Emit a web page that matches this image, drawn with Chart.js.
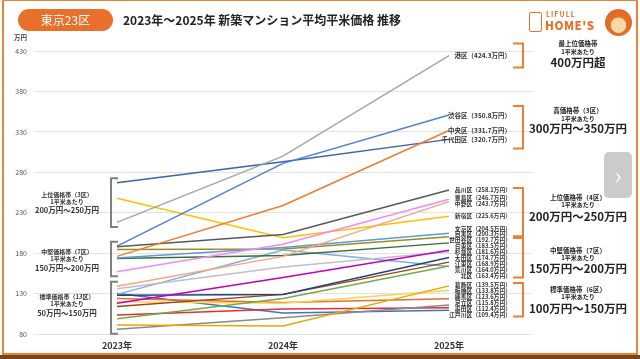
<!DOCTYPE html>
<html><head><meta charset="utf-8">
<script src="https://cdn.jsdelivr.net/npm/chart.js@4/dist/chart.umd.min.js"></script>
<style>
body{margin:0;width:640px;height:359px;overflow:hidden;background:#fff;position:relative;font-family:"Noto Sans CJK JP","Noto Sans",sans-serif;}
.abs{position:absolute;}
</style></head>
<body>
<div class="abs" style="left:2px;top:0;width:632px;height:352px;border:2px solid #E9853A;border-top-width:1px;"></div>
<div class="abs" style="left:0;top:355px;width:640px;height:4px;background:#7a4418"></div>
<canvas id="c" width="640" height="359" class="abs" style="left:0;top:0"></canvas>
<div class="abs" style="left:18px;top:9px;width:95px;height:22px;border-radius:11px;background:#E8702A;color:#fff;font-size:12px;line-height:22px;text-align:center;">東京23区</div>
<div class="abs" style="left:123px;top:10px;font-size:12px;font-weight:700;color:#222;line-height:20px;white-space:nowrap;">2023年～2025年 新築マンション平均平米価格 推移</div>
<div class="abs" style="left:529px;top:12px;width:11px;height:18px;border:1.5px solid #E8702A;border-radius:2px;"></div>
<div class="abs" style="left:546px;top:9px;font-size:7px;font-weight:700;color:#E8702A;letter-spacing:1px;">LIFULL</div>
<div class="abs" style="left:545px;top:17px;font-size:11.5px;font-weight:900;color:#E8702A;letter-spacing:0.5px;">HOME'S</div>
<div class="abs" style="left:605px;top:9px;width:27px;height:27px;border-radius:50%;background:radial-gradient(circle at 50% 60%,#f5d9a8 0,#f5d9a8 35%,#E8702A 38%,#d8601a 100%);"></div>
<div class="abs" style="left:604px;top:152px;width:28px;height:46px;border-radius:5px;background:rgba(185,185,185,0.75);color:#fff;font-size:22px;line-height:44px;text-align:center;">›</div>
<script>
const categories = ['2023年','2024年','2025年'];
const yTicks = [80,130,180,230,280,330,380,430];
const wards = ['港区','渋谷区','中央区','千代田区','品川区','豊島区','中野区','新宿区','文京区','目黒区','世田谷区','台東区','杉並区','大田区','江東区','荒川区','北区','葛飾区','板橋区','練馬区','足立区','墨田区','江戸川区'];
const v2023 = [218,188.6,176,267,188,157,139,248,174,184.5,173.5,118,136,128,114,99,129,91,120,124,86,103.5,130];
const v2024 = [300,291,239,293,203,191,176,199,187,185,177,150,163,129,129,124,184,90,118,119,100,111,106];
const v2025 = [424.3,350.8,331.7,320.7,258.1,246.7,243.7,225.6,204.5,200.3,192.7,183.5,181.6,174.7,168.9,164.0,163.4,139.5,133.8,123.6,115.8,112.4,109.4];

const colors = ['#A5A5A5','#4F7FD0','#ED7D31','#3A64B0','#595959','#F08CF0','#F4A582','#FFC000','#5B9BD5','#A08A1E','#3E6E3A','#C000C0','#C0C0C0','#264478','#9E480E','#70AD47','#7CAFDD','#E6A800','#FFD24D','#E07030','#8A8A8A','#E03030','#4472C4'];

const leftGroups = [
  {lo:200, hi:1e9, t:['上位価格帯（3区）','1平米あたり','200万円～250万円'], ty:[195,202,210]},
  {lo:150, hi:200, t:['中堅価格帯（7区）','1平米あたり','150万円～200万円'], ty:[252,259,268]},
  {lo:0, hi:150, t:['標準価格帯（13区）','1平米あたり','50万円～150万円'], ty:[297,304,313]}
];
const rightGroups = [
  {lo:400, hi:1e9, pad:12, t:['最上位価格帯','1平米あたり','400万円超'], ty:[44,52,63]},
  {lo:300, hi:400, pad:9, t:['高価格帯（3区）','1平米あたり','300万円～350万円'], ty:[111,119,129]},
  {lo:200, hi:300, pad:2, t:['上位価格帯（4区）','1平米あたり','200万円～250万円'], ty:[198,205,217]},
  {lo:150, hi:200, pad:2, t:['中堅価格帯（7区）','1平米あたり','150万円～200万円'], ty:[251,258,269]},
  {lo:0, hi:150, pad:2, t:['標準価格帯（6区）','1平米あたり','100万円～150万円'], ty:[290,297,309]}
];
const FONT = '"Noto Sans CJK JP","Noto Sans",sans-serif';

const decor = {
  id:'decor',
  afterDatasetsDraw(chart){
    const ctx = chart.ctx, y = chart.scales.y;
    ctx.save();
    const items = wards.map((w,i)=>({i, y:y.getPixelForValue(v2025[i])})).sort((a,b)=>a.y-b.y);
    const gap = 5.9;
    for(let k=0;k<300;k++){
      for(let j=1;j<items.length;j++){
        const d = items[j].y-items[j-1].y;
        if(d<gap){const s=(gap-d)/2; items[j-1].y-=s; items[j].y+=s;}
      }
    }
    const labY = {};
    ctx.fillStyle='#333'; ctx.textAlign='right'; ctx.textBaseline='middle';
    items.forEach(it=>{
      labY[it.i]=it.y;
      ctx.font = (v2025[it.i]>=300? '600 6.5px ':'600 5.8px ')+FONT;
      ctx.fillText(wards[it.i]+'（'+v2025[it.i].toFixed(1)+'万円）', 511, it.y);
    });
    ctx.strokeStyle='#808080'; ctx.lineWidth=2;
    leftGroups.forEach(g=>{
      const vals = v2023.filter(v=>v>=g.lo && v<g.hi);
      const top = y.getPixelForValue(Math.max(...vals))-4.5;
      const bot = y.getPixelForValue(Math.min(...vals))+4.5;
      ctx.beginPath(); ctx.moveTo(118,top); ctx.lineTo(111,top); ctx.lineTo(111,bot); ctx.lineTo(118,bot); ctx.stroke();
      ctx.fillStyle='#333'; ctx.textAlign='center';
      ctx.font='600 6px '+FONT; ctx.fillText(g.t[0],67,g.ty[0]); ctx.fillText(g.t[1],67,g.ty[1]);
      ctx.font='600 7.5px '+FONT; ctx.fillText(g.t[2],67,g.ty[2]);
    });
    ctx.strokeStyle='#ED7D31'; ctx.lineWidth=2;
    rightGroups.forEach(g=>{
      const ys = wards.map((w,i)=>i).filter(i=>v2025[i]>=g.lo && v2025[i]<g.hi).map(i=>labY[i]);
      const top = Math.min(...ys)-g.pad, bot = Math.max(...ys)+g.pad;
      ctx.beginPath(); ctx.moveTo(513,top); ctx.lineTo(523,top); ctx.lineTo(523,bot); ctx.lineTo(513,bot); ctx.stroke();
      ctx.fillStyle='#222'; ctx.textAlign='center';
      ctx.font='600 6.5px '+FONT; ctx.fillText(g.t[0],578,g.ty[0]); ctx.font='600 6px '+FONT; ctx.fillText(g.t[1],578,g.ty[1]);
      ctx.font='600 11.5px '+FONT; ctx.fillText(g.t[2],578,g.ty[2]);
    });
    ctx.fillStyle='#444'; ctx.textAlign='left'; ctx.font='600 6.5px '+FONT;
    ctx.fillText('万円',14,38);
    ctx.restore();
  }
};

new Chart(document.getElementById('c'),{
  type:'line',
  data:{labels:categories, datasets:wards.map((w,i)=>({label:w, data:[v2023[i],v2024[i],v2025[i]], borderColor:colors[i], backgroundColor:colors[i], borderWidth:1.5, pointRadius:0, tension:0, fill:false}))},
  options:{
    responsive:false, animation:false,
    layout:{padding:{left:0,right:108,top:51,bottom:0}},
    plugins:{legend:{display:false}, tooltip:{enabled:false}},
    scales:{
      x:{offset:true, grid:{display:false, drawTicks:false}, border:{display:false},
         ticks:{font:{size:9,family:FONT,weight:'600'}, color:'#333', padding:6},
         afterFit(s){s.height=25;}},
      y:{min:80,max:430, afterBuildTicks(s){s.ticks=yTicks.map(v=>({value:v}));},
         grid:{color:'#e2e2e2',drawTicks:false, lineWidth:1}, border:{display:false},
         ticks:{font:{size:7,family:FONT}, color:'#555', padding:7},
         afterFit(s){s.width=34;}}
    }
  },
  plugins:[decor]
});
</script>
</body></html>
